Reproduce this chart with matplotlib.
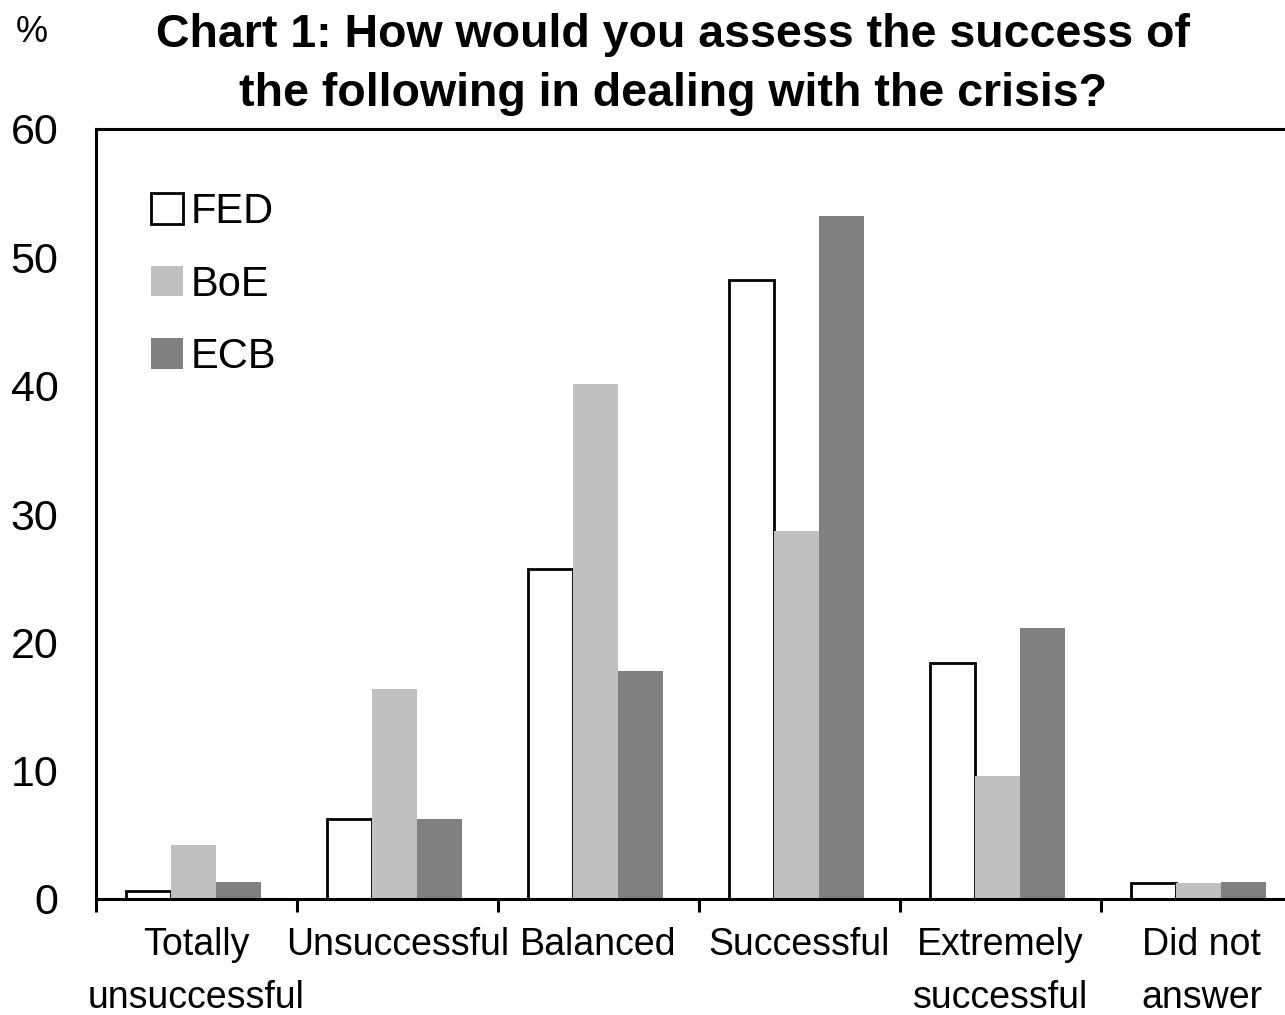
import matplotlib
matplotlib.use('Agg')
import matplotlib.pyplot as plt
from matplotlib.patches import Patch
import numpy as np

plt.rcParams['font.family'] = ['Liberation Sans', 'DejaVu Sans']

# Data (percent of respondents)
categories = ['Totally\nunsuccessful', 'Unsuccessful', 'Balanced', 'Successful',
              'Extremely\nsuccessful', 'Did not\nanswer']
fed = [0.6, 6.2, 25.7, 48.2, 18.4, 1.25]
boe = [4.2, 16.4, 40.1, 28.7, 9.6, 1.25]
ecb = [1.3, 6.2, 17.8, 53.2, 21.1, 1.3]
series_names = ['FED', 'BoE', 'ECB']

fig = plt.figure(figsize=(12.85, 10.15), dpi=100)
ax = fig.add_axes([96 / 1285, 116 / 1015, 1206 / 1285, 770 / 1015])

x = np.arange(len(categories))
w = 0.225
ax.bar(x - 0.24, fed, w, facecolor='white', edgecolor='black', linewidth=2)
ax.bar(x - 0.015, boe, w, color='#c0c0c0', linewidth=0)
ax.bar(x + 0.21, ecb, w, color='#808080', linewidth=0)

ax.set_xlim(-0.5, len(categories) - 0.5)
ax.set_ylim(0, 60)
ax.set_yticks(range(0, 61, 10))
ax.tick_params(axis='y', length=0, labelsize=31, pad=27)

# category boundary ticks
ax.set_xticks(np.arange(-0.5, len(categories), 1.0))
ax.set_xticklabels([])
ax.tick_params(axis='x', direction='out', length=9, width=2.2)
for xi, lab in zip(x, categories):
    ax.text(xi, -2.2, lab, ha='center', va='top', fontsize=27,
            linespacing=1.6)

for s in ['left', 'top', 'bottom']:
    ax.spines[s].set_linewidth(2.2)
ax.spines['right'].set_visible(False)

handles = [Patch(facecolor='white', edgecolor='black', linewidth=2),
           Patch(facecolor='#c0c0c0'), Patch(facecolor='#808080')]
ax.legend(handles, series_names, loc='upper left', bbox_to_anchor=(0.046, 0.918),
          frameon=False, fontsize=30, handlelength=0.75, handleheight=0.75,
          handletextpad=0.2, labelspacing=0.78, borderpad=0, borderaxespad=0)

fig.text(673 / 1285, 1 - 47 / 1015, 'Chart 1: How would you assess the success of',
         ha='center', va='baseline', fontsize=33.5, fontweight='bold')
fig.text(673 / 1285, 1 - 106 / 1015, 'the following in dealing with the crisis?',
         ha='center', va='baseline', fontsize=33.5, fontweight='bold')
fig.text(32 / 1285, 1 - 33 / 1015, '%', ha='center', va='center', fontsize=26)

fig.savefig('out.png', dpi=100, facecolor='white')
